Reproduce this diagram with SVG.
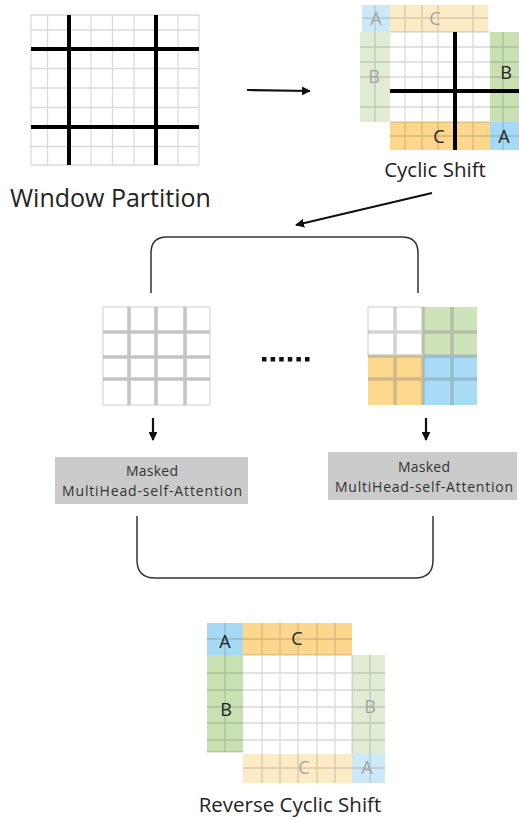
<svg xmlns="http://www.w3.org/2000/svg" width="519" height="820" viewBox="0 0 519 820">
  <defs>
    <marker id="head" viewBox="0 0 10 10" refX="9" refY="5" markerWidth="9" markerHeight="9" markerUnits="userSpaceOnUse" orient="auto">
      <path d="M0,0 L10,5 L0,10 Z" fill="#111"/>
    </marker>
  </defs>
  <style>
    .label { font-family: "Open Sans", "Noto Sans", "DejaVu Sans", sans-serif; fill: #222; }
    .title { font-size: 25px; }
    .caption { font-size: 20.5px; }
    .letter { font-size: 18px; text-anchor: middle; }
    .dark { fill: #222; }
    .faint { fill: #a4a4a4; }
    .boxtext { font-size: 14px; text-anchor: middle; fill: #333; }
    .thin { stroke: #000; stroke-opacity: 0.15; stroke-width: 1.3; fill: none; }
    .thick { stroke: #000; stroke-width: 4; fill: none; }
    .win { stroke: #c4c4c4; stroke-width: 3.5; fill: none; }
    .wincol { stroke: #7a7a7a; stroke-opacity: 0.33; stroke-width: 3.5; fill: none; }
    .box { fill: #cbcbcb; }
    .edge { stroke: #111; stroke-width: 2.2; fill: none; }
    .bracket { stroke: #333; stroke-width: 1.5; fill: none; }
  </style>

  <rect width="519" height="820" fill="#fff"/>

  <!-- Window partition: 8x8 patch grid split into 2x2 windows -->
  <g id="window-partition">
    <path class="thin" d="M31,15 V165 M47.5,15 V165 M91,15 V165 M112.5,15 V165 M134,15 V165 M178,15 V165 M199,15 V165
                          M31,15 H199 M31,30 H199 M31,68.5 H199 M31,88 H199 M31,107.5 H199 M31,146.5 H199 M31,165 H199"/>
    <path class="thick" d="M69,15 V165 M156,15 V165 M31,49 H199 M31,127 H199"/>
    <text class="label title" x="10" y="207">Window Partition</text>
  </g>

  <!-- Cyclic shift: rolled feature map with wrapped regions -->
  <g id="cyclic-shift">
    <rect x="362" y="5" width="28" height="27" fill="#cde9f7"/>
    <rect x="390" y="5" width="98" height="27" fill="#fdebc6"/>
    <rect x="360" y="32" width="30" height="90" fill="#e1ecd5"/>
    <rect x="390" y="32" width="100" height="90" fill="#fff"/>
    <rect x="490" y="32" width="29" height="90" fill="#c9e0b3"/>
    <rect x="390" y="122" width="100" height="28" fill="#fcd78d"/>
    <rect x="490" y="122" width="29" height="28" fill="#a6d9f4"/>
    <path class="thin" d="M375,5 V122 M405,5 V150 M422,5 V150 M438,5 V150 M473,5 V150 M503,32 V150
                          M362,18 H488 M360,47 H519 M360,62 H519 M360,77 H519 M360,107 H519 M390,136 H519 M390,122 H490 M390,32 H490"/>
    <path class="thick" d="M455,32 V150 M390,91 H519"/>
    <text class="label letter faint" x="376" y="25">A</text>
    <text class="label letter faint" x="435" y="25">C</text>
    <text class="label letter faint" x="374" y="83">B</text>
    <text class="label letter dark" x="506" y="79">B</text>
    <text class="label letter dark" x="439" y="143">C</text>
    <text class="label letter dark" x="504" y="143">A</text>
    <text class="label caption" x="435" y="177" text-anchor="middle">Cyclic Shift</text>
  </g>

  <!-- Plain windows -->
  <g id="windows-plain">
    <rect x="103" y="307" width="107" height="98" fill="#fff" stroke="#d6d6d6" stroke-width="1.2"/>
    <path class="win" d="M129,307 V405 M156,307 V405 M185,307 V405 M103,332 H210 M103,357 H210 M103,379 H210"/>
  </g>

  <!-- Ellipsis between windows -->
  <g id="ellipsis" fill="#111">
    <rect x="262" y="357" width="4.5" height="4.5"/>
    <rect x="270.6" y="357" width="4.5" height="4.5"/>
    <rect x="279.2" y="357" width="4.5" height="4.5"/>
    <rect x="287.8" y="357" width="4.5" height="4.5"/>
    <rect x="296.4" y="357" width="4.5" height="4.5"/>
    <rect x="305" y="357" width="4.5" height="4.5"/>
  </g>

  <!-- Shifted window with masked sub-regions -->
  <g id="windows-masked">
    <rect x="368" y="307" width="55" height="49" fill="#fff" stroke="#d6d6d6" stroke-width="1.2"/>
    <rect x="423" y="307" width="54" height="49" fill="#cfe3bb"/>
    <rect x="368" y="356" width="55" height="49" fill="#fcd98f"/>
    <rect x="423" y="356" width="54" height="49" fill="#a8dcf6"/>
    <path class="wincol" d="M395,307 V405 M423,307 V405 M452,307 V405 M368,332 H477 M368,356 H477 M368,379 H477"/>
  </g>

  <!-- Attention blocks -->
  <g id="attention-left">
    <rect class="box" x="55" y="457" width="193" height="47"/>
    <text class="label boxtext" x="152" y="476" textLength="52" lengthAdjust="spacing">Masked</text>
    <text class="label boxtext" x="152" y="496" textLength="180" lengthAdjust="spacing">MultiHead-self-Attention</text>
  </g>
  <g id="attention-right">
    <rect class="box" x="328" y="452" width="189" height="48"/>
    <text class="label boxtext" x="424" y="472" textLength="52" lengthAdjust="spacing">Masked</text>
    <text class="label boxtext" x="424" y="492" textLength="178" lengthAdjust="spacing">MultiHead-self-Attention</text>
  </g>

  <!-- Reverse cyclic shift: regions rolled back to place -->
  <g id="reverse-cyclic-shift">
    <rect x="207" y="623" width="36" height="32" fill="#a6d9f4"/>
    <rect x="243" y="623" width="109" height="32" fill="#fcd78d"/>
    <rect x="207" y="655" width="36" height="97" fill="#c9e0b3"/>
    <rect x="243" y="655" width="109" height="99" fill="#fff"/>
    <rect x="352" y="655" width="33" height="99" fill="#e1ecd5"/>
    <rect x="243" y="754" width="109" height="29" fill="#fdebc6"/>
    <rect x="352" y="754" width="33" height="29" fill="#cde9f7"/>
    <path class="thin" d="M225,623 V752 M262,623 V783 M280,623 V783 M298,623 V783 M317,623 V783 M335,623 V783 M370,655 V783
                          M207,639 H352 M207,673 H385 M207,690 H385 M207,707 H385 M207,723 H385 M207,740 H385 M243,768 H385
                          M207,752 H243 M243,655 H352 M352,655 V754"/>
    <text class="label letter dark" x="225" y="648">A</text>
    <text class="label letter dark" x="297" y="645">C</text>
    <text class="label letter dark" x="226" y="716">B</text>
    <text class="label letter faint" x="370" y="713">B</text>
    <text class="label letter faint" x="304" y="774">C</text>
    <text class="label letter faint" x="367" y="774">A</text>
    <text class="label caption" x="290" y="812" text-anchor="middle">Reverse Cyclic Shift</text>
  </g>

  <!-- Connectors -->
  <g id="connectors">
    <line class="edge" x1="247" y1="90" x2="310" y2="91" marker-end="url(#head)"/>
    <line class="edge" x1="432" y1="193" x2="296" y2="225" marker-end="url(#head)"/>
    <path class="bracket" d="M151,293 V253 Q151,237 167,237 H402 Q418,237 418,253 V293"/>
    <line class="edge" x1="153" y1="418" x2="153" y2="440" marker-end="url(#head)"/>
    <line class="edge" x1="426" y1="418" x2="426" y2="440" marker-end="url(#head)"/>
    <path class="bracket" d="M137,516 V560 Q137,578 155,578 H415 Q433,578 433,560 V516"/>
  </g>
</svg>
